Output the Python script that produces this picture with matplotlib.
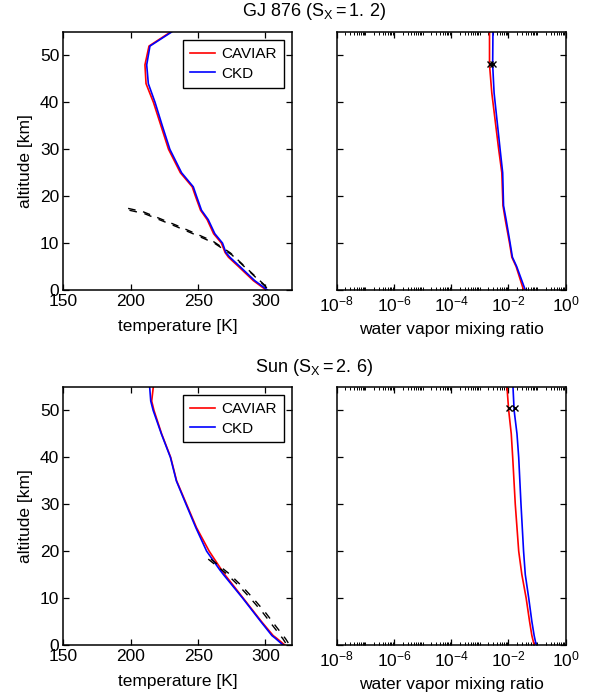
import numpy as np
import matplotlib
matplotlib.use("Agg")
from matplotlib import pyplot as plt
from matplotlib.ticker import LogLocator, NullFormatter

plt.rcParams['font.family'] = ['Liberation Sans', 'DejaVu Sans']
plt.rcParams['mathtext.fontset'] = 'custom'
plt.rcParams['mathtext.rm'] = 'Liberation Sans'
plt.rcParams['mathtext.it'] = 'Liberation Sans'
plt.rcParams['font.size'] = 12.5

FS = 12.5

# --- GJ 876 ---
gj_z = [0, 2, 5, 7, 8, 10, 12, 15, 17, 20, 22, 25, 30, 35, 40, 44, 48, 52, 55]
gj_T_ckd = [301.5, 292, 281, 273.5, 270.6, 268.1, 262.4, 257.5, 252.5, 248.8,
            246.4, 237.7, 229, 223.4, 218, 213, 211.8, 214.2, 230.3]
gj_T_cav = [300.5, 291, 280, 272.5, 270.0, 267.3, 261.5, 256.7, 251.8, 248.0,
            245.6, 236.8, 228, 222.4, 216.8, 211.3, 210.5, 213.5, 229.5]
gj_adiab_T1 = [198, 209, 233, 246, 261, 274, 291, 301]
gj_adiab_z1 = [17.4, 16.7, 13.9, 12.3, 10.4, 7.9, 3.3, 0.6]
gj_adiab_T2 = [199, 210, 234, 247, 262, 275, 292, 302]
gj_adiab_z2 = [17.0, 16.3, 13.5, 11.9, 10.0, 7.5, 2.9, 0.2]

gj_qz = [0, 5, 7, 10, 15, 18, 25, 30, 42, 48, 55]
gj_q_cav = [-1.47, -1.73, -1.88, -1.96, -2.11, -2.19, -2.23, -2.34, -2.58, -2.66, -2.66]
gj_q_ckd = [-1.41, -1.71, -1.86, -1.94, -2.08, -2.17, -2.20, -2.29, -2.50, -2.55, -2.54]
gj_cold_q = [-2.64, -2.55]
gj_cold_z = [48.2, 48.2]

# --- Sun ---
sun_z = [0, 1.5, 2, 5, 10, 15, 16, 20, 25, 30, 35, 40, 45, 50, 52, 55]
sun_T_cav = [314.3, 308, 305.7, 297, 283.4, 269.8, 267.4, 258.2, 248.8, 241.4,
             234, 229.6, 222.9, 217.2, 215.5, 216.7]
sun_T_ckd = [313.0, 307, 304.8, 296.5, 283.0, 268.8, 266.1, 256.3, 248.3, 241.0,
             233.8, 229.4, 222.7, 216.6, 214.8, 214.0]
sun_adiab_T1 = [257.5, 271, 281, 289.6, 298.3, 305.7, 313, 315]
sun_adiab_z1 = [18.3, 15.2, 12.4, 9.7, 6.8, 4.0, 1.3, 0.4]
sun_adiab_T2 = [259.5, 273, 283, 291.6, 300.3, 307.7, 315, 317]

sun_qz = [0, 2, 5, 10, 15, 20, 30, 40, 45, 50, 55]
sun_q_cav = [-1.10, -1.18, -1.26, -1.38, -1.53, -1.64, -1.76, -1.85, -1.90, -1.99, -2.05]
sun_q_ckd = [-1.03, -1.10, -1.18, -1.29, -1.41, -1.47, -1.56, -1.64, -1.70, -1.80, -1.84]
sun_cold_q = [-1.99, -1.76]
sun_cold_z = [50.5, 50.5]

fig = plt.figure(figsize=(5.9, 6.93), dpi=100)
W, H = 0.388, 0.3723
ax_pos = {
    'tl': [0.1076, 0.5815, W, H],
    'tr': [0.5707, 0.5815, W, H],
    'bl': [0.1076, 0.0693, W, H],
    'br': [0.5707, 0.0693, W, H],
}


def style(ax):
    ax.tick_params(which='both', direction='in', top=True, right=True, labelsize=FS)
    ax.tick_params(which='major', length=4.3, width=0.9, pad=3)
    ax.tick_params(which='minor', length=2.3, width=0.7)
    for s in ax.spines.values():
        s.set_linewidth(1.1)


def temp_panel(ax, z, Tcav, Tckd, aT1, az1, aT2, az2):
    ax.plot(Tcav, z, color='red', lw=1.2, label='CAVIAR')
    ax.plot(Tckd, z, color='blue', lw=1.2, label='CKD')
    ax.plot(aT1, az1, color='black', lw=1.0, dashes=(5.5, 5.5))
    ax.plot(aT2, az2, color='black', lw=1.0, dashes=(5.5, 5.5))
    ax.set_xlim(150, 320)
    ax.set_ylim(0, 55)
    ax.set_xticks([150, 200, 250, 300])
    ax.set_yticks([0, 10, 20, 30, 40, 50])
    ax.set_xlabel('temperature [K]', fontsize=FS, labelpad=7)
    ax.set_ylabel('altitude [km]', fontsize=FS, labelpad=5)
    leg = ax.legend(loc='upper right', fancybox=False, edgecolor='black',
                    framealpha=1, fontsize=11, handlelength=1.6,
                    handletextpad=0.45, borderpad=0.45, labelspacing=0.35,
                    borderaxespad=0.55)
    leg.get_frame().set_linewidth(1.0)
    style(ax)


def vapor_panel(ax, qz, qcav, qckd, cq, cz):
    ax.plot(10.0 ** np.array(qcav), qz, color='red', lw=1.2)
    ax.plot(10.0 ** np.array(qckd), qz, color='blue', lw=1.2)
    ax.plot(10.0 ** np.array(cq), cz, 'kx', ms=5, mew=1.0)
    ax.set_xscale('log')
    ax.set_xlim(1e-8, 1)
    ax.set_ylim(0, 55)
    ax.set_xticks([1e-8, 1e-6, 1e-4, 1e-2, 1])
    ax.xaxis.set_minor_locator(LogLocator(base=10, subs=np.arange(1, 10), numticks=100))
    ax.xaxis.set_minor_formatter(NullFormatter())
    ax.set_yticks([0, 10, 20, 30, 40, 50])
    ax.set_yticklabels([])
    ax.set_xlabel('water vapor mixing ratio', fontsize=FS, labelpad=6)
    style(ax)


ax = fig.add_axes(ax_pos['tl'])
temp_panel(ax, gj_z, gj_T_cav, gj_T_ckd, gj_adiab_T1, gj_adiab_z1, gj_adiab_T2, gj_adiab_z2)
ax = fig.add_axes(ax_pos['tr'])
vapor_panel(ax, gj_qz, gj_q_cav, gj_q_ckd, gj_cold_q, gj_cold_z)

ax = fig.add_axes(ax_pos['bl'])
temp_panel(ax, sun_z, sun_T_cav, sun_T_ckd, sun_adiab_T1, sun_adiab_z1, sun_adiab_T2, sun_adiab_z1)
ax = fig.add_axes(ax_pos['br'])
vapor_panel(ax, sun_qz, sun_q_cav, sun_q_ckd, sun_cold_q, sun_cold_z)

fig.text(0.532, 0.983, r'GJ 876 ($\mathrm{S_X = 1.\,2}$)', ha='center', va='center', fontsize=13)
fig.text(0.532, 0.470, r'Sun ($\mathrm{S_X = 2.\,6}$)', ha='center', va='center', fontsize=13)

fig.savefig('out.png', dpi=100)
